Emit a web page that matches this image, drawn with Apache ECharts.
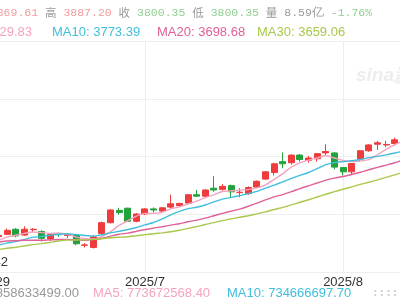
<!DOCTYPE html>
<html><head><meta charset="utf-8">
<script src="https://cdn.jsdelivr.net/npm/echarts@6/dist/echarts.min.js"></script>
<style>
html,body{margin:0;padding:0;overflow:hidden;background:#fff;width:400px;height:300px;position:relative}
#c{position:absolute;left:-60px;top:0;width:520px;height:300px}
</style></head>
<body><div id="c"></div>
<script>
// trading days shown (2025)
const dates = [
 '2025/6/6','2025/6/9','2025/6/10','2025/6/11','2025/6/12','2025/6/13','2025/6/16','2025/6/17','2025/6/18','2025/6/19','2025/6/20','2025/6/23','2025/6/24','2025/6/25','2025/6/26','2025/6/27','2025/6/30',
 '2025/7/1','2025/7/2','2025/7/3','2025/7/4','2025/7/7','2025/7/8','2025/7/9','2025/7/10','2025/7/11','2025/7/14','2025/7/15','2025/7/16','2025/7/17','2025/7/18','2025/7/21','2025/7/22','2025/7/23','2025/7/24','2025/7/25','2025/7/28','2025/7/29','2025/7/30','2025/7/31',
 '2025/8/1','2025/8/4','2025/8/5','2025/8/6','2025/8/7','2025/8/8','2025/8/11','2025/8/12'
];
const opens = [3382,3388,3402,3386,3401,3396,3375,3388,3385,3385,3358,3352,3390,3420,3454,3460,3424,
 3444,3458,3452,3463,3467,3474,3497,3493,3515,3512,3522,3503,3500,3518,3540,3558,3588,3585,3606,3592,3596,3612,3612,
 3572,3560,3595,3618,3636,3634,3638,3650];
const closes = [3385,3399,3384,3402,3402,3377,3388,3387,3388,3362,3359,3381,3420,3455,3448,3424,3444,
 3458,3455,3461,3472,3473,3497,3493,3510,3510,3520,3505,3504,3517,3534,3560,3582,3582,3606,3594,3598,3610,3616,3573,
 3560,3583,3618,3634,3640,3635,3648,3666];
const lows = [3378,3386,3380,3384,3395,3368,3370,3381,3378,3358,3352,3349,3386,3418,3442,3423,3421,
 3441,3448,3448,3460,3465,3472,3491,3488,3505,3508,3488,3490,3497,3515,3538,3550,3570,3580,3588,3585,3588,3605,3567,
 3550,3554,3588,3615,3620,3628,3632,3645];
const highs = [3388,3404,3405,3410,3405,3399,3390,3393,3392,3387,3364,3386,3423,3457,3461,3461,3446,
 3460,3462,3463,3497,3475,3498,3510,3512,3548,3526,3525,3515,3520,3536,3562,3585,3613,3608,3609,3604,3611,3636,3614,
 3573,3584,3620,3636,3645,3645,3654,3669];
const ma5 = [3370.6,3381.0,3385.6,3390.8,3394.4,3392.8,3390.6,3391.2,3388.4,3380.4,3376.8,3375.4,3382.0,3395.4,3412.6,3425.6,3438.2,
 3445.8,3445.8,3448.4,3458.0,3463.8,3471.6,3479.2,3489.0,3496.6,3506.0,3507.6,3509.8,3511.2,3516.0,3524.0,3539.4,3555.0,3572.8,3584.8,3592.4,3598.0,3604.8,3598.2,
 3591.4,3588.4,3590.0,3593.6,3607.0,3622.0,3635.0,3644.6];
const ma10 = [3358.9,3364.0,3367.8,3374.0,3380.3,3381.7,3385.8,3388.4,3389.6,3387.4,3384.8,3383.0,3386.6,3391.9,3396.5,3401.2,3406.8,
 3413.9,3420.6,3430.5,3441.8,3451.0,3458.7,3462.5,3468.7,3477.3,3484.9,3489.6,3494.5,3500.1,3506.3,3515.0,3523.5,3532.4,3542.0,3550.4,3558.2,3568.7,3579.9,3585.5,
 3588.1,3590.4,3594.0,3599.2,3602.6,3606.7,3611.7,3617.3];
const ma20 = [3366.9,3369.8,3370.5,3371.9,3371.9,3371.7,3372.8,3373.8,3374.2,3372.9,3371.9,3373.5,3377.2,3383.0,3388.4,3391.5,3396.3,
 3401.2,3405.1,3409.0,3413.3,3417.0,3422.7,3427.2,3432.6,3439.3,3445.9,3451.8,3457.6,3465.3,3474.1,3483.0,3491.1,3497.5,3505.4,3513.9,3521.6,3529.2,3537.2,3542.8,
 3547.2,3552.7,3558.8,3565.8,3572.3,3578.6,3585.0,3593.0];
const ma30 = [3346.3,3349.6,3352.6,3356.1,3359.6,3362.6,3366.0,3369.6,3372.0,3372.6,3372.9,3374.2,3375.9,3378.6,3380.1,3381.5,3384.1,
 3387.1,3389.6,3392.1,3395.2,3399.3,3404.4,3409.5,3415.2,3420.1,3425.8,3430.6,3434.9,3439.3,3444.3,3449.7,3456.3,3462.3,3469.1,3476.3,3483.3,3490.7,3498.3,3505.4,
 3512.1,3518.8,3525.4,3531.4,3537.8,3544.8,3551.6,3558.5];
const monthLabels = {'2025/7/1':'2025/7','2025/8/1':'2025/8'};
const priceMin = 3284.4, priceMax = 3920;
const headerItems = [['开','3869.61','up'],['高','3887.20','up'],['收','3800.35','dn'],['低','3800.35','dn'],['量','8.59亿','gray'],['','-1.76%','dn']];
const maLegend = ['MA5: 3829.83','MA10: 3773.39','MA20: 3698.68','MA30: 3659.06'];
const volLegend = ['VOL: 858633499.00','MA5: 773672568.40','MA10: 734666697.70'];

const UP='#ee3b3b', DN='#22a23a';
const C5='#f5a3be', C10='#40bfdc', C20='#e0619a', C30='#a9c84c';
const OX = 60; // container offset

const kdata = dates.map((d,i)=>[opens[i],closes[i],lows[i],highs[i]]);

let hdr = headerItems.map(([k,v,t])=>(k?'{k|'+k+'} ':'')+'{'+t+'|'+v+'}').join(' ');

const chart = echarts.init(document.getElementById('c'));
const lineS = (name,data,color)=>({name,type:'line',data,symbol:'none',smooth:0.2,clip:false,
  lineStyle:{color,width:1.4},itemStyle:{color},z:3});
chart.setOption({
  animation:false,
  backgroundColor:'#fff',
  grid:{left:58.6,right:56.7,top:41,bottom:28},
  xAxis:{type:'category',data:dates,boundaryGap:false,
    axisLine:{show:false},axisTick:{show:false},
    axisLabel:{interval:(i,v)=>v in monthLabels,formatter:v=>monthLabels[v]||'',color:'#333',fontSize:13,margin:4,fontFamily:'Liberation Sans'},
    splitLine:{show:true,interval:(i,v)=>v in monthLabels,lineStyle:{color:'#eeeeee',width:1}}},
  yAxis:[{type:'value',min:priceMin,max:priceMax,show:false},
    {type:'value',min:0,max:4,interval:1,axisLabel:{show:false},axisLine:{show:false},axisTick:{show:false},
     splitLine:{show:true,lineStyle:{color:'#eeeeee',width:1}}}],
  series:[
    {type:'candlestick',data:kdata,barWidth:6.5,clip:false,z:2,
     itemStyle:{color:UP,color0:DN,borderColor:UP,borderColor0:DN,borderWidth:1}},
    lineS('MA5',ma5,C5),lineS('MA10',ma10,C10),lineS('MA20',ma20,C20),lineS('MA30',ma30,C30)
  ],
  graphic:[
    {type:'text',x:OX-28.6,y:12.5,style:{text:hdr,font:'11.5px "Liberation Mono", monospace',fill:'#999',verticalAlign:'middle',
      rich:{k:{fill:'#9a9a9a',font:'11.5px "Noto Sans CJK SC"'},up:{fill:'#f29b9b',font:'11.5px "Liberation Mono"'},dn:{fill:'#90cf90',font:'11.5px "Liberation Mono"'},gray:{fill:'#9a9a9a',font:'11.5px "Liberation Mono"'}}}},
    {type:'text',x:OX+32,y:32,style:{text:maLegend[0],fill:C5,font:'13px "Liberation Sans"',align:'right',verticalAlign:'middle'}},
    {type:'text',x:OX+52,y:32,style:{text:maLegend[1],fill:C10,font:'13px "Liberation Sans"',verticalAlign:'middle'}},
    {type:'text',x:OX+157,y:32,style:{text:maLegend[2],fill:C20,font:'13px "Liberation Sans"',verticalAlign:'middle'}},
    {type:'text',x:OX+257,y:32,style:{text:maLegend[3],fill:C30,font:'13px "Liberation Sans"',verticalAlign:'middle'}},
    {type:'text',x:OX+79,y:293,style:{text:volLegend[0],fill:'#999',font:'13px "Liberation Sans"',align:'right',verticalAlign:'middle'}},
    {type:'text',x:OX+93,y:293,style:{text:volLegend[1],fill:C5,font:'13px "Liberation Sans"',verticalAlign:'middle'}},
    {type:'text',x:OX+227,y:293,style:{text:volLegend[2],fill:C10,font:'13px "Liberation Sans"',verticalAlign:'middle'}},
    {type:'text',x:OX+372,y:293,style:{text:'::::::::',fill:'#d0d0d0',font:'bold 11px "DejaVu Sans Mono"',verticalAlign:'middle'}},
    {type:'text',x:OX+10,y:282,style:{text:'2025/5/29',fill:'#333',font:'13px "Liberation Sans"',align:'right',verticalAlign:'middle'}},
    {type:'text',x:OX+8,y:262,style:{text:'3284.42',fill:'#333',font:'13px "Liberation Sans"',align:'right',verticalAlign:'middle'}},
    {type:'text',x:OX+356,y:76,style:{text:'sina新浪',fill:'#ededed',font:'italic bold 19px "Liberation Sans"',verticalAlign:'middle'}}
  ]
});
</script></body></html>
